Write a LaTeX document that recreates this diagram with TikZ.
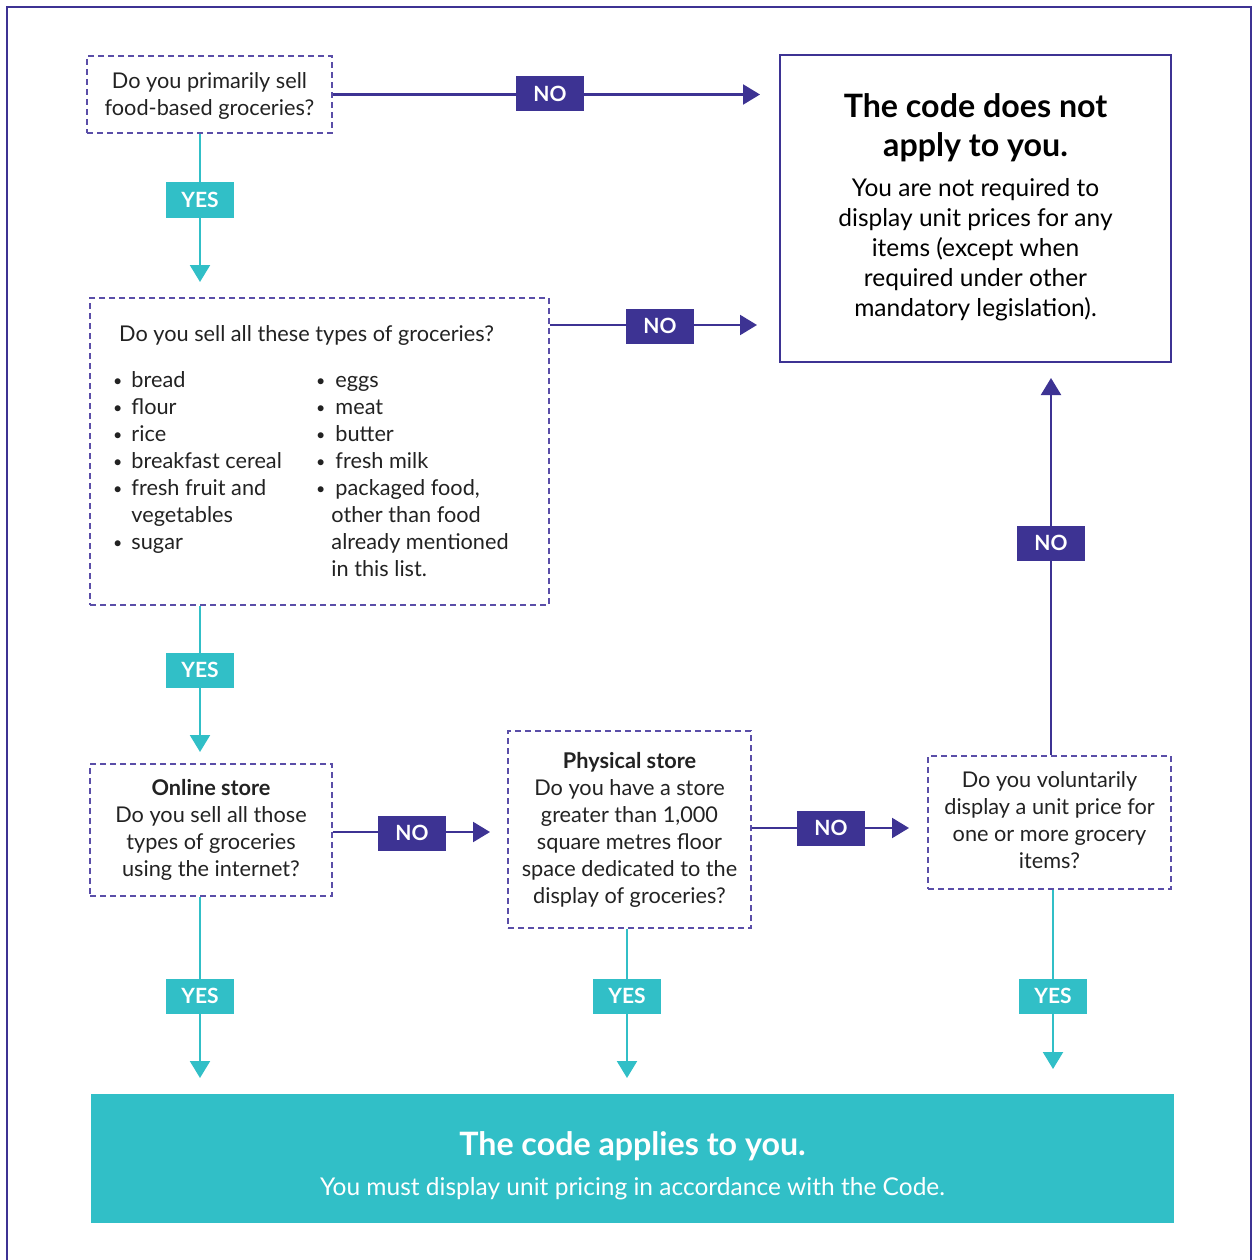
\documentclass[tikz,border=0pt]{standalone}
\usepackage{fontspec}
\setmainfont{Lato}
\usetikzlibrary{arrows.meta}
\definecolor{navy}{HTML}{3D3393}
\definecolor{tealc}{HTML}{31BFC7}
\definecolor{dashc}{HTML}{5A4EA8}
\definecolor{txt}{HTML}{222222}
\newcommand{\bul}{\raisebox{1pt}{\fontsize{16}{16}\selectfont •}}
\begin{document}
\begin{tikzpicture}[x=1pt,y=-1pt,
  qbox/.style={draw=dashc, line width=1.3pt, dash pattern=on 6pt off 4pt, inner sep=0pt},
  abox/.style={draw=navy, line width=2.6pt, inner sep=0pt},
  fbox/.style={fill=tealc, inner sep=0pt},
  body/.style={text=txt, font=\fontsize{21.7}{27}\selectfont, align=center, inner sep=0pt},
  nolbl/.style={fill=navy, text=white, font=\bfseries\fontsize{21}{25}\selectfont, minimum width=68pt, minimum height=35pt, inner sep=0pt},
  yeslbl/.style={fill=tealc, text=white, font=\bfseries\fontsize{21}{25}\selectfont, minimum width=68pt, minimum height=35pt, inner sep=0pt},
  noarr/.style={draw=navy, line width=2.2pt, -{Triangle[width=20pt,length=17pt]}},
  yesarr/.style={draw=tealc, line width=2.2pt, -{Triangle[width=20pt,length=17pt]}}
]
\useasboundingbox (0,0) rectangle (1252,1260);
% outer frame
\draw[navy, line width=2.8pt] (7,1262) -- (7,7) -- (1251,7) -- (1251,1262);

% boxes
\node[qbox, minimum width=245pt, minimum height=77pt] (b1) at (209.5,94.5) {};
\node[body] (b1t) at (209.5,96) {Do you primarily sell\\food-based groceries?};

\node[abox, minimum width=391pt, minimum height=307pt] (rt) at (975.5,208.5) {};
\node[body, font=\bfseries\fontsize{32.2}{39}\selectfont, text=black] (rtt) at (975.5,128) {The code does not\\apply to you.};
\node[body, font=\fontsize{24.5}{30}\selectfont, text=black] (rtb) at (975.5,250) {You are not required to\\display unit prices for any\\items (except when\\required under other\\mandatory legislation).};

\node[qbox, minimum width=459pt, minimum height=307pt] (b2) at (319.5,451.5) {};
\node[body, anchor=west] (b2t) at (119,335.5) {Do you sell all these types of groceries?};
\node[body, anchor=west] (b2l) at (113,463.5) {\begin{tabular}{@{}l@{\hspace{9pt}}l@{}}
\bul&bread\\ \bul&flour\\ \bul&rice\\ \bul&breakfast cereal\\ \bul&fresh fruit and\\ &vegetables\\ \bul&sugar
\end{tabular}};
\node[body, anchor=west] (b2r) at (316,477) {\begin{tabular}{@{}l@{\hspace{10pt}}l@{}}
\bul&eggs\\ \bul&meat\\ \bul&butter\\ \bul&fresh milk\\ \bul&packaged food,\\ &\hspace*{-4pt}other than food\\ &\hspace*{-4pt}already mentioned\\ &\hspace*{-4pt}in this list.
\end{tabular}};

\node[qbox, minimum width=242pt, minimum height=132pt] (b3) at (211,830) {};
\node[body] (b3t) at (211,830) {\textbf{Online store}\\Do you sell all those\\types of groceries\\using the internet?};

\node[qbox, minimum width=243pt, minimum height=197pt] (b4) at (629.5,829.5) {};
\node[body] (b4t) at (629.5,830) {\textbf{Physical store}\\Do you have a store\\greater than 1,000\\square metres floor\\space dedicated to the\\display of groceries?};

\node[qbox, minimum width=243pt, minimum height=133pt] (b5) at (1049.5,822.5) {};
\node[body] (b5t) at (1049.5,820.5) {Do you voluntarily\\display a unit price for\\one or more grocery\\items?};

\node[fbox, minimum width=1083pt, minimum height=129pt] (fin) at (632.5,1158.5) {};
\node[body, text=white, font=\bfseries\fontsize{32.2}{37}\selectfont] (fint) at (632.5,1146) {The code applies to you.};
\node[body, text=white, font=\fontsize{24.5}{28}\selectfont] (finb) at (632.5,1189) {You must display unit pricing in accordance with the Code.};

% tips
\coordinate (t1) at (760,94.5);
\coordinate (t2) at (757,325);
\coordinate (t3) at (490,832);
\coordinate (t4) at (909,828);
\coordinate (t5) at (1051,378);
\coordinate (y1) at (200,282);
\coordinate (y2) at (200,752);
\coordinate (y3) at (200,1078);
\coordinate (y4) at (627,1078);
\coordinate (y5) at (1053,1069);

% connectors
\draw[noarr] (b1.east |- t1) -- (t1);
\draw[noarr] (b2.east |- t2) -- (t2);
\draw[noarr] (b3.east |- t3) -- (t3);
\draw[noarr] (b4.east |- t4) -- (t4);
\draw[noarr] (b5.north -| t5) -- (t5);
\draw[yesarr] (b1.south -| y1) -- (y1);
\draw[yesarr] (b2.south -| y2) -- (y2);
\draw[yesarr] (b3.south -| y3) -- (y3);
\draw[yesarr] (b4.south -| y4) -- (y4);
\draw[yesarr] (b5.south -| y5) -- (y5);

% labels
\node[nolbl] (n1) at (550,94) {NO};
\node[nolbl] (n2) at (660,326) {NO};
\node[nolbl] (n3) at (412,833) {NO};
\node[nolbl] (n4) at (831,828) {NO};
\node[nolbl] (n5) at (1051,543) {NO};
\node[yeslbl] (e1) at (200,200) {YES};
\node[yeslbl] (e2) at (200,670) {YES};
\node[yeslbl] (e3) at (200,996) {YES};
\node[yeslbl] (e4) at (627,996) {YES};
\node[yeslbl] (e5) at (1053,996) {YES};
\end{tikzpicture}
\end{document}
